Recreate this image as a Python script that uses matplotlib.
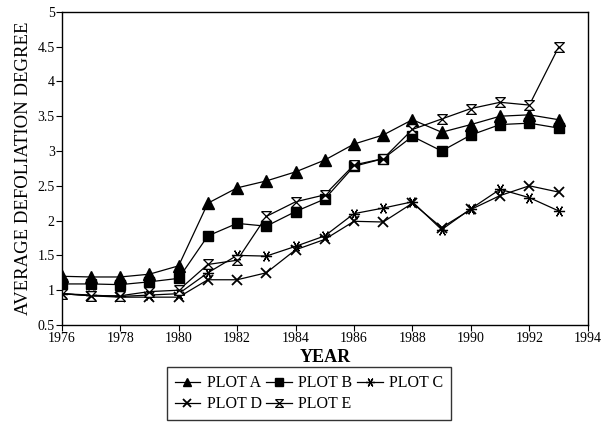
import matplotlib
matplotlib.use("Agg")
import matplotlib.pyplot as plt
from matplotlib.path import Path

plt.rcParams['font.family'] = ['Liberation Serif', 'DejaVu Serif']

years = list(range(1976, 1994))
plot_a = [1.20, 1.19, 1.19, 1.23, 1.35, 2.25, 2.47, 2.57, 2.70, 2.87, 3.10, 3.23, 3.45, 3.27, 3.38, 3.50, 3.52, 3.45]
plot_b = [1.09, 1.09, 1.08, 1.12, 1.17, 1.78, 1.96, 1.92, 2.13, 2.31, 2.78, 2.89, 3.21, 3.00, 3.23, 3.38, 3.40, 3.33]
plot_c = [0.95, 0.93, 0.91, 0.93, 0.95, 1.25, 1.50, 1.49, 1.63, 1.78, 2.10, 2.18, 2.27, 1.87, 2.17, 2.45, 2.33, 2.14]
plot_d = [0.95, 0.92, 0.90, 0.90, 0.90, 1.15, 1.15, 1.25, 1.58, 1.73, 1.99, 1.98, 2.25, 1.90, 2.16, 2.36, 2.50, 2.41]
plot_e = [0.95, 0.92, 0.92, 0.98, 1.00, 1.37, 1.43, 2.06, 2.27, 2.37, 2.80, 2.89, 3.31, 3.46, 3.61, 3.70, 3.66, 4.49]

# hourglass marker: top bar, diagonal, bottom bar, diagonal back
hourglass = Path([(-1, 1), (1, 1), (-1, -1), (1, -1), (-1, 1)],
                 [Path.MOVETO, Path.LINETO, Path.LINETO, Path.LINETO, Path.LINETO])

fig = plt.figure(figsize=(6.11, 4.38), dpi=100)
ax = fig.add_axes([0.101, 0.258, 0.861, 0.715])

la, = ax.plot(years, plot_a, color='black', lw=0.9, marker='^', ms=8, label='PLOT A')
lb, = ax.plot(years, plot_b, color='black', lw=0.9, marker='s', ms=6.5, label='PLOT B')
lc, = ax.plot(years, plot_c, color='black', lw=0.9, marker=(6, 2, 90), ms=8, mew=0.9, label='PLOT C')
ld, = ax.plot(years, plot_d, color='black', lw=0.9, marker='x', ms=7, mew=1.3, label='PLOT D')
le, = ax.plot(years, plot_e, color='black', lw=0.9, marker=hourglass, ms=7, mew=0.9,
              mfc='white', label='PLOT E')

ax.set_xlim(1976, 1994)
ax.set_ylim(0.5, 5)
ax.set_xticks(range(1976, 1995, 2))
ax.set_yticks([0.5, 1, 1.5, 2, 2.5, 3, 3.5, 4, 4.5, 5])
ax.set_yticklabels(['0.5', '1', '1.5', '2', '2.5', '3', '3.5', '4', '4.5', '5'])
ax.tick_params(direction='out', length=4, width=0.8, labelsize=10, pad=1)
for s in ax.spines.values():
    s.set_linewidth(1.0)

ax.set_xlabel('YEAR', fontsize=13, fontweight='bold', labelpad=3)
ax.set_ylabel('AVERAGE DEFOLIATION DEGREE', fontsize=13.5, labelpad=4)

# row-wise order: A B C / D E
handles = [la, ld, lb, le, lc]
leg = ax.legend(handles, [h.get_label() for h in handles],
                loc='upper center', bbox_to_anchor=(0.47, -0.11), ncol=3,
                frameon=True, fancybox=False, edgecolor='black', fontsize=11.5,
                handlelength=1.6, handletextpad=0.4, columnspacing=0.3,
                labelspacing=0.3, borderpad=0.5, markerscale=0.8)
leg.get_frame().set_linewidth(1.0)

fig.savefig('out.png', dpi=100)
